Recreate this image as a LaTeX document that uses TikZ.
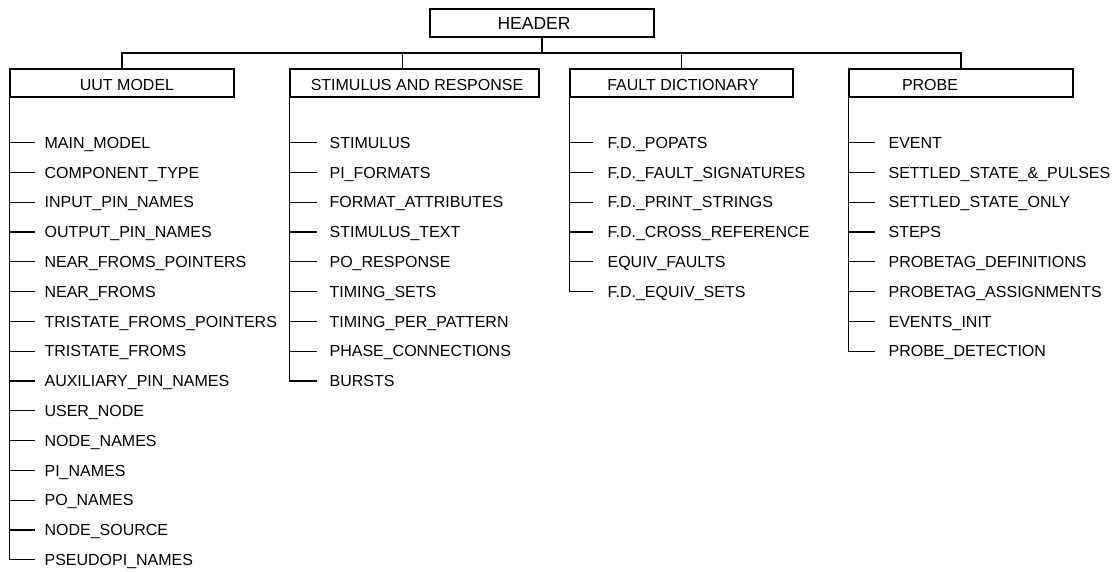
\documentclass[tikz,border=0pt]{standalone}
\usepackage{fontspec}
\setmainfont{Liberation Sans}
\begin{document}
\begin{tikzpicture}[x=1pt,y=-1pt,line width=1.2pt,
  box/.style={draw,inner sep=0pt,minimum height=28pt},
  boxtext/.style={font=\fontsize{16}{16}\selectfont,inner sep=0pt,text height=11.46pt,text depth=0pt},
  headtext/.style={font=\fontsize{17.5}{17.5}\selectfont,inner sep=0pt,text height=12.5pt,text depth=0pt},
  item/.style={anchor=west,font=\fontsize{16}{16}\selectfont,inner ysep=0pt,text height=11.46pt,text depth=0pt}]
\useasboundingbox (0,0) rectangle (1116,571);
% header and section boxes
\node[box,minimum width=224pt] (header) at (542,23) {};
\node[headtext] (headerT) at (534,23.5) {HEADER};
\node[box,minimum width=224pt] (uut) at (122,83) {};
\node[boxtext] (uutT) at (127,85) {UUT MODEL};
\node[box,minimum width=249pt] (sr) at (414.5,83) {};
\node[boxtext] (srT) at (417,85) {STIMULUS AND RESPONSE};
\node[box,minimum width=223pt] (fd) at (681.5,83) {};
\node[boxtext] (fdT) at (683,85) {FAULT DICTIONARY};
\node[box,minimum width=224pt] (pr) at (961,83) {};
\node[boxtext] (prT) at (930,85) {PROBE};
% bus
\coordinate (bus) at (542,53);
\coordinate (srtop) at (402.5,69);
\draw (header.south) -- (bus);
\draw (uut.north) |- (bus) -| (pr.north);
\draw (srtop) -- (srtop |- bus);
\draw (fd.north) -- (fd.north |- bus);
% UUT MODEL items
\foreach \t [count=\i from 0] in {MAIN\_MODEL,COMPONENT\_TYPE,INPUT\_PIN\_NAMES,OUTPUT\_PIN\_NAMES,NEAR\_FROMS\_POINTERS,NEAR\_FROMS,TRISTATE\_FROMS\_POINTERS,TRISTATE\_FROMS,AUXILIARY\_PIN\_NAMES,USER\_NODE,NODE\_NAMES,PI\_NAMES,PO\_NAMES,NODE\_SOURCE,PSEUDOPI\_NAMES}{
  \node[item,inner xsep=9pt] (u\i) at (35,142.5+29.8*\i) {\t};
  \draw (uut.south west |- u\i.west) -- (u\i.west);
}
\draw (uut.south west) -- (uut.south west |- u14.west);
% STIMULUS AND RESPONSE items
\foreach \t [count=\i from 0] in {STIMULUS,PI\_FORMATS,FORMAT\_ATTRIBUTES,STIMULUS\_TEXT,PO\_RESPONSE,TIMING\_SETS,TIMING\_PER\_PATTERN,PHASE\_CONNECTIONS,BURSTS}{
  \node[item,inner xsep=12pt] (s\i) at (317,142.5+29.8*\i) {\t};
  \draw (sr.south west |- s\i.west) -- (s\i.west);
}
\draw (sr.south west) -- (sr.south west |- s8.west);
% FAULT DICTIONARY items
\foreach \t [count=\i from 0] in {F.D.\_POPATS,F.D.\_FAULT\_SIGNATURES,F.D.\_PRINT\_STRINGS,F.D.\_CROSS\_REFERENCE,EQUIV\_FAULTS,F.D.\_EQUIV\_SETS}{
  \node[item,inner xsep=14pt] (f\i) at (593,142.5+29.8*\i) {\t};
  \draw (fd.south west |- f\i.west) -- (f\i.west);
}
\draw (fd.south west) -- (fd.south west |- f5.west);
% PROBE items
\foreach \t [count=\i from 0] in {EVENT,SETTLED\_STATE\_\&\_PULSES,SETTLED\_STATE\_ONLY,STEPS,PROBETAG\_DEFINITIONS,PROBETAG\_ASSIGNMENTS,EVENTS\_INIT,PROBE\_DETECTION}{
  \node[item,inner xsep=13pt] (p\i) at (875,142.5+29.8*\i) {\t};
  \draw (pr.south west |- p\i.west) -- (p\i.west);
}
\draw (pr.south west) -- (pr.south west |- p7.west);
\end{tikzpicture}
\end{document}
